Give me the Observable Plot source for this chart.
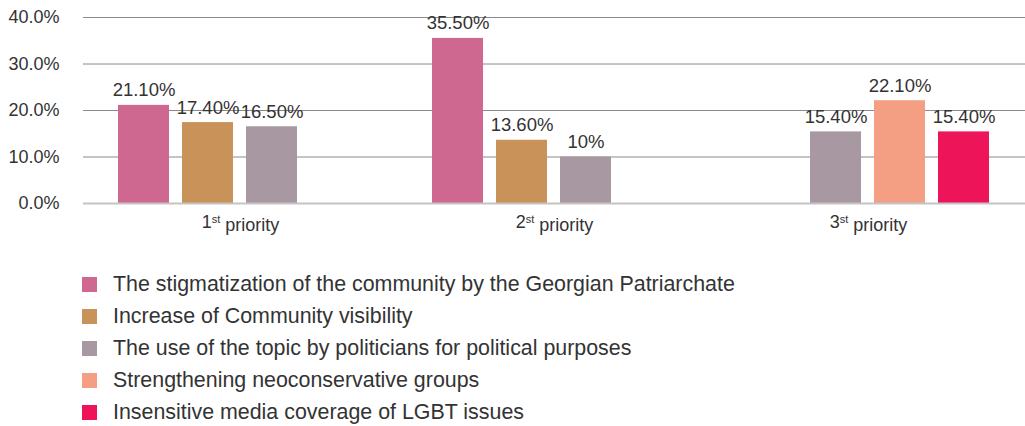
<!DOCTYPE html>
<html>
<head>
<meta charset="utf-8">
<script src="https://cdn.jsdelivr.net/npm/d3@7"></script>
<script src="https://cdn.jsdelivr.net/npm/@observablehq/plot@0.6"></script>
<style>
  html, body { margin: 0; padding: 0; background: #fff; }
  #chart { width: 1025px; }
  .legend { margin: 0; padding: 23px 0 0 82px; font-family: "Liberation Sans", Arial, sans-serif; font-size: 21.4px; color: #333; }
  .legend .row { display: flex; align-items: center; height: 32px; }
  .legend .sw { width: 15px; height: 15px; margin-right: 16px; flex: none; }
</style>
</head>
<body>
<div id="chart"></div>
<script>
// ---- data ----
const priorities = ["1st priority", "2st priority", "3st priority"];
const series = [
  "The stigmatization of the community by the Georgian Patriarchate",
  "Increase of Community visibility",
  "The use of the topic by politicians for political purposes",
  "Strengthening neoconservative groups",
  "Insensitive media coverage of LGBT issues"
];
const colors = ["#CF6890", "#C99259", "#A798A2", "#F49E84", "#EE1459"];
const valuesP1 = [21.1, 17.4, 16.5, null, null];
const valuesP2 = [35.5, 13.6, 10, null, null];
const valuesP3 = [null, null, 15.4, 22.1, 15.4];
const labelsP1 = ["21.10%", "17.40%", "16.50%", null, null];
const labelsP2 = ["35.50%", "13.60%", "10%", null, null];
const labelsP3 = [null, null, "15.40%", "22.10%", "15.40%"];
const yTicks = [0, 10, 20, 30, 40];

// ---- build table ----
const groupValues = [valuesP1, valuesP2, valuesP3];
const groupLabels = [labelsP1, labelsP2, labelsP3];
const groupStart = [0, 0, 1];
const rows = [];
priorities.forEach((p, gi) => {
  let k = 0;
  groupValues[gi].forEach((v, si) => {
    if (v == null) return;
    rows.push({priority: p, series: series[si], value: v, label: groupLabels[gi][si], slot: groupStart[gi] + k++});
  });
});

const plot = Plot.plot({
  width: 1025,
  height: 245,
  marginLeft: 82,
  marginRight: 0,
  marginTop: 17,
  marginBottom: 42,
  style: {fontFamily: "'Liberation Sans', Arial, sans-serif", fontSize: "18px", color: "#333", background: "#fff"},
  fx: {domain: priorities, padding: 0, label: null, axis: "bottom", tickSize: 0, tickPadding: 12},
  x: {domain: [0, 1, 2, 3], paddingInner: 0.2, paddingOuter: 0.537, axis: null},
  y: {domain: [0, 40], ticks: yTicks, tickFormat: d => d.toFixed(1) + "%", label: null, tickSize: 0, tickPadding: 24},
  color: {domain: series, range: colors},
  marks: [
    Plot.ruleY(yTicks.filter(t => t > 0), {stroke: "#8a8a8a", strokeWidth: 1}),
    Plot.barY(rows, {fx: "priority", x: "slot", y: "value", fill: "series"}),
    Plot.ruleY([0], {stroke: "#c4c4c4", strokeWidth: 2}),
    Plot.text(rows, {fx: "priority", x: "slot", y: "value", text: "label", dy: -15, fontSize: 18.5, fill: "#333"})
  ]
});
document.getElementById("chart").appendChild(plot);

// superscript ordinal suffix in the fx tick labels
d3.select(plot).selectAll('g[aria-label="fx-axis tick label"] text').each(function() {
  const t = d3.select(this);
  const s = t.text();
  const m = s.match(/^(\d+)(st|nd|rd|th)(.*)$/);
  if (!m) return;
  t.text("");
  t.style("font-size", "18px");
  t.append("tspan").text(m[1]);
  t.append("tspan").text(m[2]).attr("dy", "-0.45em").style("font-size", "11px");
  t.append("tspan").text(m[3]).attr("dy", "0.45em");
});

// legend
const legend = d3.select("body").append("div").attr("class", "legend");
series.forEach((s, i) => {
  const r = legend.append("div").attr("class", "row");
  r.append("div").attr("class", "sw").style("background", colors[i]);
  r.append("span").text(s);
});
</script>
</body>
</html>
